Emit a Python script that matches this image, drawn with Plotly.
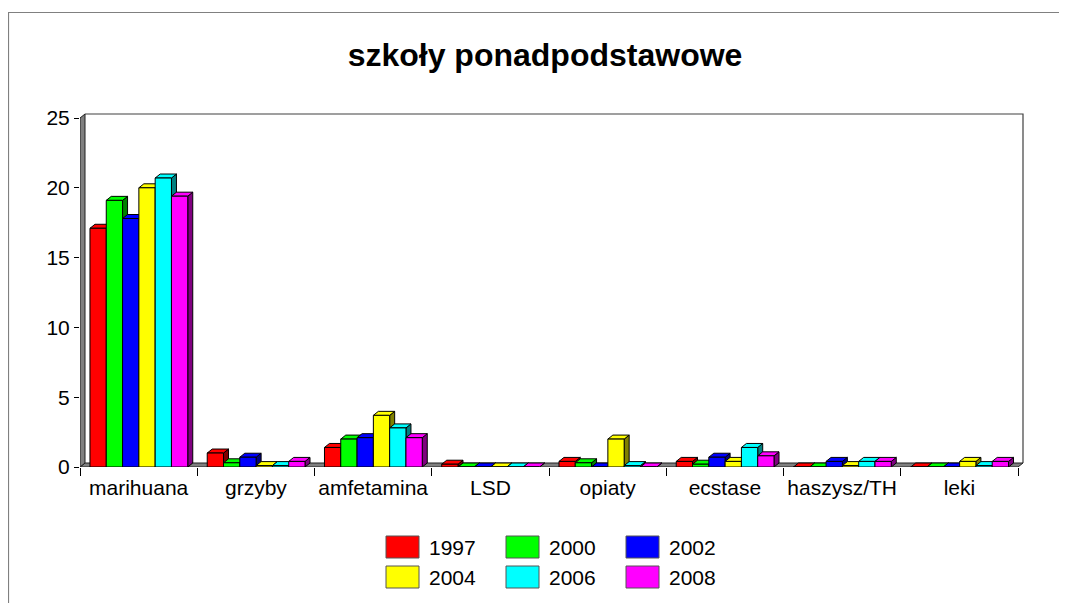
import plotly.graph_objects as go

categories = ["marihuana", "grzyby", "amfetamina", "LSD", "opiaty", "ecstase", "haszysz/TH", "leki"]
years = ["1997", "2000", "2002", "2004", "2006", "2008"]
v1997 = [17.1, 1.0, 1.4, 0.2, 0.4, 0.4, 0.0, 0.0]
v2000 = [19.1, 0.3, 2.0, 0.0, 0.3, 0.2, 0.0, 0.0]
v2002 = [17.8, 0.7, 2.1, 0.0, 0.0, 0.7, 0.4, 0.0]
v2004 = [20.0, 0.1, 3.7, 0.0, 2.0, 0.4, 0.1, 0.4]
v2006 = [20.7, 0.1, 2.8, 0.0, 0.1, 1.4, 0.4, 0.1]
v2008 = [19.4, 0.4, 2.1, 0.0, 0.0, 0.8, 0.4, 0.4]
series = [v1997, v2000, v2002, v2004, v2006, v2008]
y_ticks = [0, 5, 10, 15, 20, 25]

front_colors = ["#FF0000", "#00FF00", "#0000FF", "#FFFF00", "#00FFFF", "#FF00FF"]
side_colors = ["#800000", "#008000", "#000080", "#808000", "#008080", "#800080"]

# page offset: the figure div sits 8px inside the page (body margin)
OFF = 8
FW, FH = 1067 - OFF, 603 - OFF
PX_PER_CAT = 117.25
PX_PER_UNIT = 13.96
DX_PX, DY_PX = 5, 4
L = 80 - OFF
T = 113 - OFF
W = int(round(8 * PX_PER_CAT + 6))
HP = 354
B = FH - T - HP
R = FW - L - W
x_max = 7.5 + 6 / PX_PER_CAT
y_max = HP / PX_PER_UNIT
dx = DX_PX / PX_PER_CAT
dy = DY_PX / PX_PER_UNIT
bar_w = 0.139
start = -0.415

FONT = "Arial, Liberation Sans, sans-serif"


def px_x(px):
    """reference page pixel -> paper x"""
    return (px - OFF - L) / W


def px_y(py):
    """reference page pixel -> paper y"""
    return (T + HP - (py - OFF)) / HP


fig = go.Figure()
shapes = []

# back wall lines, floor, left wall
shapes.append(dict(type="path", xref="x", yref="y", layer="below",
                   path=f"M {-0.5+dx},{25+dy} L {7.5+dx},{25+dy} L {7.5+dx},{dy}",
                   line=dict(color="#404040", width=1.2)))
shapes.append(dict(type="path", xref="x", yref="y", layer="below",
                   path=f"M -0.5,0 L 7.5,0 L {7.5+dx},{dy} L {-0.5+dx},{dy} Z",
                   fillcolor="#808080", line=dict(color="#202020", width=1)))
shapes.append(dict(type="path", xref="x", yref="y", layer="below",
                   path=f"M -0.5,0 L -0.5,25 L {-0.5+dx},{25+dy} L {-0.5+dx},{dy} Z",
                   fillcolor="#808080", line=dict(color="#202020", width=1)))

for i in range(len(categories)):
    for j, vals in enumerate(series):
        v = vals[i]
        x0 = i + start + j * bar_w
        x1 = x0 + bar_w
        # side face
        shapes.append(dict(type="path", xref="x", yref="y", layer="below",
                           path=f"M {x1},0 L {x1},{v} L {x1+dx},{v+dy} L {x1+dx},{dy} Z",
                           fillcolor=side_colors[j], line=dict(color="black", width=1)))
        # top face
        shapes.append(dict(type="path", xref="x", yref="y", layer="below",
                           path=f"M {x0},{v} L {x1},{v} L {x1+dx},{v+dy} L {x0+dx},{v+dy} Z",
                           fillcolor=front_colors[j], line=dict(color="black", width=1)))

for j, vals in enumerate(series):
    xs = [i + start + j * bar_w + bar_w / 2 for i in range(len(categories))]
    fig.add_trace(go.Bar(x=xs, y=vals, width=bar_w, name=years[j],
                         marker=dict(color=front_colors[j], line=dict(color="black", width=1)),
                         showlegend=False, hoverinfo="y"))

# outer border
shapes.append(dict(type="path", xref="paper", yref="paper",
                   path=f"M {px_x(8.5)},{px_y(610)} L {px_x(8.5)},{px_y(12.5)} L {px_x(1080)},{px_y(12.5)}",
                   line=dict(color="#808080", width=1.2)))

# custom legend
annotations = []
leg_cols = [386, 506, 626]
leg_rows = [547, 577]
for j, yr in enumerate(years):
    cx = leg_cols[j % 3]
    cy = leg_rows[j // 3]
    shapes.append(dict(type="rect", xref="paper", yref="paper",
                       x0=px_x(cx), x1=px_x(cx + 33), y0=px_y(cy + 11), y1=px_y(cy - 11),
                       fillcolor=front_colors[j], line=dict(color="#555555", width=1)))
    annotations.append(dict(xref="paper", yref="paper", x=px_x(cx + 41), y=px_y(cy),
                            xanchor="left", yanchor="middle", showarrow=False, text=yr,
                            font=dict(family=FONT, size=21, color="black")))

fig.update_layout(
    width=FW, height=FH,
    margin=dict(l=L, r=R, t=T, b=B, pad=0),
    paper_bgcolor="white", plot_bgcolor="rgba(0,0,0,0)",
    barmode="overlay",
    title=dict(text="<b>szkoły ponadpodstawowe</b>", x=(545 - OFF) / FW, xanchor="center",
               y=1 - (55 - OFF) / FH, yanchor="middle", yref="container",
               font=dict(family=FONT, size=32, color="black")),
    xaxis=dict(range=[-0.5, x_max], tickvals=list(range(len(categories))), ticktext=categories,
               ticks="", showgrid=False, zeroline=False, showline=False,
               ticklabelstandoff=6,
               tickfont=dict(family=FONT, size=21, color="black"),
               minor=dict(tickmode="array", tickvals=[k - 0.5 for k in range(len(categories) + 1)],
                          ticks="outside", ticklen=8, tickcolor="black", tickwidth=1, showgrid=False)),
    yaxis=dict(range=[0, y_max], tickvals=y_ticks, ticks="outside", ticklen=5, tickcolor="black",
               showgrid=False, zeroline=False, showline=False,
               tickfont=dict(family=FONT, size=21, color="black")),
    shapes=shapes, annotations=annotations,
)

fig.write_html("out.html")
